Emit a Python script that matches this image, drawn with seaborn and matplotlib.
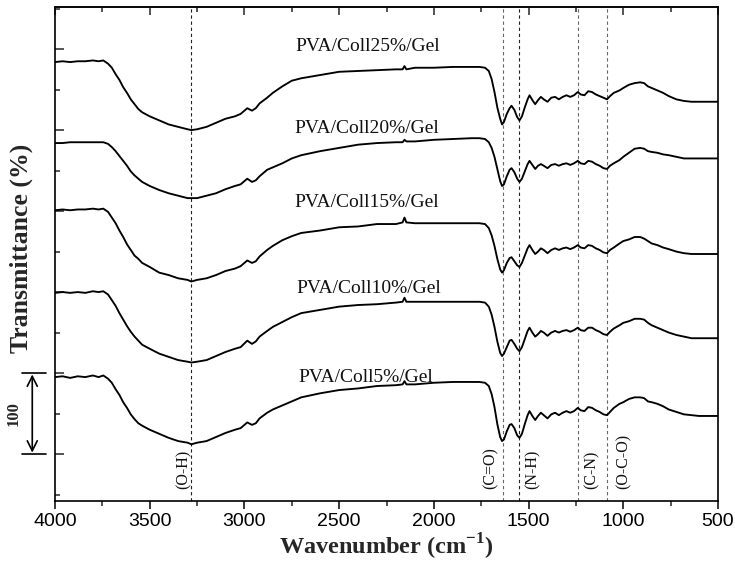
import matplotlib
matplotlib.use("Agg")
import matplotlib.pyplot as plt
import pandas as pd
import seaborn as sns
from matplotlib.ticker import MultipleLocator, NullFormatter

# FTIR sampling grid (cm^-1), shared by every spectrum
wavenumber = [
    4000, 3960, 3920, 3880, 3840, 3800, 3770, 3745, 3720, 3700,
    3680, 3660, 3640, 3620, 3600, 3580, 3560, 3540, 3500, 3450,
    3400, 3350, 3300, 3280, 3250, 3200, 3150, 3100, 3050, 3020,
    2985, 2960, 2940, 2920, 2880, 2850, 2800, 2750, 2700, 2600,
    2500, 2400, 2300, 2200, 2165, 2155, 2145, 2100, 2000, 1900,
    1800, 1760, 1730, 1710, 1695, 1680, 1665, 1650, 1640, 1630,
    1615, 1600, 1590, 1575, 1560, 1548, 1535, 1520, 1505, 1495,
    1480, 1465, 1450, 1435, 1420, 1400, 1380, 1360, 1340, 1320,
    1300, 1280, 1260, 1240, 1225, 1205, 1185, 1165, 1145, 1125,
    1105, 1086, 1070, 1050, 1020, 1000, 970, 940, 911, 890,
    870, 850, 820, 790, 760, 720, 680, 640, 600, 550, 500,
]

t_coll25 = [
    100, 101, 100, 101, 101, 102, 101, 102, 98, 93,
    85, 78, 69, 62, 54, 48, 42, 38, 33, 28,
    23, 20, 17, 16, 17, 20, 25, 30, 33, 36,
    43, 40, 43, 49, 56, 62, 70, 77, 80, 84,
    88, 89, 90, 91, 91, 95, 91, 93, 93, 94,
    94, 94, 93, 89, 79, 63, 44, 30, 23, 26,
    36, 43, 46, 41, 32, 28, 33, 44, 54, 59,
    53, 48, 53, 57, 54, 51, 56, 57, 54, 57,
    59, 57, 59, 63, 60, 59, 64, 63, 60, 58,
    56, 54, 58, 62, 65, 68, 72, 74, 75, 74,
    70, 68, 65, 62, 58, 54, 52, 51, 51, 51, 51,
]

t_coll20 = [
    100, 100, 101, 101, 101, 101, 101, 101, 99, 95,
    90, 84, 78, 72, 65, 60, 56, 52, 47, 42,
    38, 35, 32, 32, 32, 35, 38, 43, 47, 49,
    56, 52, 54, 59, 67, 70, 75, 81, 85, 90,
    94, 98, 100, 101, 101, 104, 102, 102, 104, 105,
    106, 106, 105, 101, 94, 83, 68, 53, 47, 49,
    59, 67, 69, 64, 56, 52, 56, 65, 74, 78,
    73, 68, 72, 74, 72, 69, 73, 74, 72, 74,
    75, 73, 75, 78, 75, 74, 78, 77, 74, 72,
    69, 68, 72, 75, 79, 83, 88, 93, 94, 93,
    90, 89, 88, 86, 85, 83, 81, 81, 81, 81, 81,
]

t_coll15 = [
    100, 101, 100, 101, 101, 102, 101, 102, 98, 91,
    84, 75, 67, 58, 51, 44, 40, 35, 30, 23,
    20, 16, 14, 12, 14, 16, 20, 25, 28, 31,
    38, 35, 37, 43, 51, 56, 63, 68, 72, 75,
    79, 80, 83, 83, 85, 91, 85, 84, 84, 84,
    84, 84, 83, 78, 69, 56, 40, 27, 23, 26,
    35, 41, 42, 37, 32, 30, 35, 44, 53, 57,
    51, 46, 49, 53, 51, 47, 51, 53, 51, 53,
    54, 52, 54, 57, 54, 53, 57, 56, 53, 51,
    48, 47, 51, 54, 59, 62, 64, 67, 67, 65,
    62, 59, 57, 54, 52, 49, 47, 46, 46, 46, 46,
]

t_coll10 = [
    100, 101, 100, 101, 100, 102, 101, 102, 98, 91,
    84, 75, 67, 59, 52, 46, 41, 36, 31, 25,
    21, 17, 15, 14, 15, 17, 22, 27, 31, 33,
    41, 37, 40, 46, 53, 58, 64, 70, 75, 79,
    83, 85, 86, 88, 89, 94, 89, 89, 89, 89,
    89, 89, 88, 83, 73, 58, 40, 26, 22, 25,
    33, 41, 42, 37, 31, 28, 33, 43, 53, 57,
    51, 46, 49, 53, 51, 47, 51, 53, 51, 53,
    54, 52, 54, 57, 54, 53, 57, 57, 54, 52,
    49, 48, 52, 56, 60, 63, 65, 68, 68, 67,
    63, 60, 57, 54, 51, 48, 46, 44, 44, 44, 44,
]

t_coll5 = [
    100, 101, 99, 101, 100, 102, 100, 102, 98, 93,
    85, 78, 69, 62, 54, 48, 43, 40, 35, 30,
    25, 21, 19, 17, 19, 21, 26, 31, 35, 37,
    44, 41, 43, 49, 56, 60, 65, 70, 75, 80,
    84, 86, 89, 90, 91, 95, 91, 91, 93, 94,
    94, 94, 93, 89, 79, 63, 42, 26, 21, 23,
    33, 41, 42, 37, 28, 25, 30, 42, 53, 58,
    52, 47, 52, 56, 53, 49, 54, 56, 53, 56,
    58, 56, 58, 62, 59, 58, 63, 62, 59, 57,
    54, 53, 57, 62, 67, 69, 73, 75, 75, 74,
    70, 69, 67, 64, 60, 57, 54, 53, 52, 52, 52,
]

samples = ["PVA/Coll25%/Gel", "PVA/Coll20%/Gel", "PVA/Coll15%/Gel",
           "PVA/Coll10%/Gel", "PVA/Coll5%/Gel"]
spectra = [t_coll25, t_coll20, t_coll15, t_coll10, t_coll5]
stack_offsets = [484, 384, 301, 199, 95]

# sample name positions (wavenumber, stacked transmittance)
name_x = [2347, 2355, 2352, 2345, 2362]
name_y = [603, 502, 411, 305, 195]

# assigned absorption bands
band_positions = [3282, 1635, 1550, 1240, 1086]
band_names = ["(O-H)", "(C=O)", "(N-H)", "(C-N)", "(O-C-O)"]
band_label_x = [3322, 1700, 1478, 1166, 998]
band_label_y = 57

# vertical scale bar
scale_bar = (100, 200)
scale_text = "100"

x_major = [4000, 3500, 3000, 2500, 2000, 1500, 1000, 500]

sns.set_theme(style="ticks")
plt.rcParams["font.family"] = ["Liberation Serif", "DejaVu Serif"]
plt.rcParams["mathtext.fontset"] = "custom"
plt.rcParams["mathtext.rm"] = "Liberation Serif:bold"
plt.rcParams["mathtext.bf"] = "Liberation Serif:bold"

rows = []
for name, values, off in zip(samples, spectra, stack_offsets):
    for wn, t in zip(wavenumber, values):
        rows.append({"sample": name, "wavenumber": wn, "stacked": t + off})
df = pd.DataFrame(rows)

fig = plt.figure(figsize=(7.35, 5.65), dpi=100)
ax = fig.add_axes([55 / 735, 64 / 565, 663 / 735, 494 / 565])

for bx, col in zip(band_positions, ["#222222", "#666666", "#222222", "#666666", "#666666"]):
    ax.axvline(bx, color=col, lw=0.8, ls=(0, (3, 2.5)), zorder=1)

sns.lineplot(data=df, x="wavenumber", y="stacked", units="sample",
             estimator=None, sort=False, color="black", lw=1.35,
             legend=False, ax=ax, zorder=3)

for name, x, y in zip(samples, name_x, name_y):
    ax.text(x, y, name, fontsize=14, ha="center", va="center", color="#111111")

for name, x in zip(band_names, band_label_x):
    ax.text(x, band_label_y, name, rotation=90, fontsize=11.5,
            ha="center", va="bottom", color="#111111")

ax.set_xlim(4000, 500)
ax.set_ylim(42, 652)
ax.set_xticks(x_major)
ax.xaxis.set_minor_locator(MultipleLocator(250))
ax.yaxis.set_major_locator(MultipleLocator(100))
ax.yaxis.set_minor_locator(MultipleLocator(50))
ax.yaxis.set_major_formatter(NullFormatter())
ax.set_xticklabels([str(v) for v in x_major], fontfamily="Liberation Sans",
                   fontsize=14)

ax.tick_params(axis="x", which="major", direction="out", length=6, width=1.1,
               pad=3, colors="black")
ax.tick_params(axis="x", which="minor", direction="out", length=3.5, width=1.1)
ax.tick_params(axis="y", which="major", direction="in", length=6.5, width=1.1,
               left=True, right=False)
ax.tick_params(axis="y", which="minor", direction="in", length=3.5, width=1.1)

top = ax.secondary_xaxis("top")
top.set_xticks(x_major)
top.xaxis.set_minor_locator(MultipleLocator(250))
top.set_xticklabels([])
top.tick_params(axis="x", which="major", direction="in", length=6, width=1.1)
top.tick_params(axis="x", which="minor", direction="in", length=3.5, width=1.1)
top.spines["top"].set_linewidth(1.2)

for s in ax.spines.values():
    s.set_linewidth(1.2)
    s.set_color("black")

ax.set_xlabel("Wavenumber (cm$^{-1}$)", fontsize=17.5, fontweight="bold", labelpad=1)
ax.set_ylabel("")
fig.text(21 / 735, 1 - 248 / 565, "Transmittance (%)", rotation=90,
         fontsize=18.5, fontweight="bold", ha="center", va="center")

# scale bar drawn outside the left spine
bar_x = 4120
ax.annotate("", xy=(bar_x, scale_bar[0]), xytext=(bar_x, scale_bar[1]),
            arrowprops=dict(arrowstyle="<->", lw=1.2, color="black",
                            mutation_scale=18, shrinkA=1, shrinkB=1),
            annotation_clip=False)
for yb in scale_bar:
    ax.plot([4175, 4045], [yb, yb], color="black", lw=1.2, clip_on=False)
ax.text(4218, sum(scale_bar) / 2, scale_text, rotation=90, fontsize=12,
        fontweight="bold", ha="center", va="center", clip_on=False)

fig.savefig("out.png", dpi=100)
